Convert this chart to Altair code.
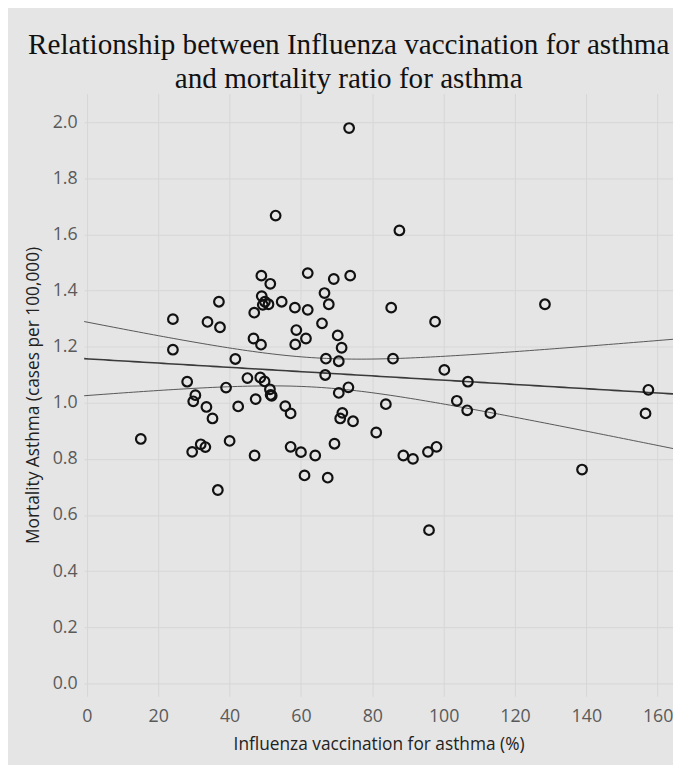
import altair as alt
import numpy as np
import pandas as pd

TITLE = ["Relationship between Influenza vaccination for asthma",
         "and mortality ratio for asthma"]
X_TITLE = "Influenza vaccination for asthma (%)"
Y_TITLE = "Mortality Asthma (cases per 100,000)"

vaccination = [
    15.1, 24.1, 24.1, 28.1, 30.4, 29.8, 29.5, 31.9, 33.2, 33.5,
    33.8, 35.2, 36.7, 37.0, 37.3, 39.0, 40.0, 41.6, 42.4, 45.0,
    46.9, 46.7, 47.0, 47.3, 48.8, 48.9, 49.0, 49.3, 49.9, 50.9,
    48.6, 49.8, 51.4, 51.3, 51.5, 51.8, 52.9, 54.6, 55.6, 57.1,
    57.1, 58.3, 58.7, 58.4, 60.0, 61.0, 61.4, 61.9, 61.9, 64.0,
    65.9, 66.6, 67.8, 67.0, 66.8, 67.5, 69.2, 69.4, 70.3, 70.6,
    71.4, 70.6, 71.6, 71.0, 73.3, 73.5, 73.8, 74.6, 81.1, 83.8,
    85.3, 85.8, 87.6, 88.7, 91.4, 95.6, 95.9, 97.6, 98.0, 100.2,
    103.7, 106.8, 106.6, 113.1, 128.4, 138.8, 156.6, 157.4,
]
mortality = [
    0.871, 1.298, 1.189, 1.075, 1.027, 1.005, 0.825, 0.852, 0.842, 0.985,
    1.288, 0.944, 0.689, 1.360, 1.269, 1.054, 0.864, 1.156, 0.987, 1.088,
    1.321, 1.229, 0.812, 1.013, 1.207, 1.453, 1.380, 1.349, 1.360, 1.351,
    1.090, 1.076, 1.424, 1.048, 1.028, 1.025, 1.667, 1.360, 0.988, 0.962,
    0.843, 1.339, 1.259, 1.208, 0.824, 0.741, 1.229, 1.462, 1.331, 0.812,
    1.283, 1.391, 1.351, 1.157, 1.099, 0.733, 1.441, 0.854, 1.240, 1.148,
    1.196, 1.035, 0.964, 0.944, 1.055, 1.979, 1.453, 0.934, 0.894, 0.995,
    1.339, 1.157, 1.614, 0.812, 0.800, 0.825, 0.546, 1.289, 0.843, 1.117,
    1.007, 1.075, 0.973, 0.963, 1.351, 0.762, 0.962, 1.046,
]

x_ticks = [0, 20, 40, 60, 80, 100, 120, 140, 160]
y_ticks = [0.0, 0.2, 0.4, 0.6, 0.8, 1.0, 1.2, 1.4, 1.6, 1.8, 2.0]
x_domain = [-0.8, 164.3]
y_domain = [-0.046, 2.102]

points = pd.DataFrame({"x": vaccination, "y": mortality})

# linear fit and 95% confidence band derived from the data
xa = np.array(vaccination)
ya = np.array(mortality)
n = len(xa)
slope, intercept = np.polyfit(xa, ya, 1)
resid = ya - (intercept + slope * xa)
s = np.sqrt(np.sum(resid ** 2) / (n - 2))
sxx = np.sum((xa - xa.mean()) ** 2)
tval = 1.987
xs = np.linspace(x_domain[0], x_domain[1], 120)
fit = intercept + slope * xs
se = s * np.sqrt(1.0 / n + (xs - xa.mean()) ** 2 / sxx)
band = pd.DataFrame({"x": xs, "fit": fit, "lo": fit - tval * se, "hi": fit + tval * se})

xscale = alt.Scale(domain=x_domain, nice=False, zero=False)
yscale = alt.Scale(domain=y_domain, nice=False, zero=False)

xenc = alt.X("x:Q", scale=xscale, axis=alt.Axis(values=x_ticks, title=X_TITLE, format="d"))
yenc = alt.Y("y:Q", scale=yscale, axis=alt.Axis(values=y_ticks, title=Y_TITLE, format=".1f"))

pts = alt.Chart(points).mark_point(
    shape="circle", filled=False, color="#111111", strokeWidth=2.2, size=95, opacity=1
).encode(x=xenc, y=yenc)

base = alt.Chart(band)
xb = alt.X("x:Q", scale=xscale)
line_fit = base.mark_line(color="#3a3a3a", strokeWidth=1.6, clip=True).encode(
    x=xb, y=alt.Y("fit:Q", scale=yscale))
line_lo = base.mark_line(color="#555555", strokeWidth=1, clip=True).encode(
    x=xb, y=alt.Y("lo:Q", scale=yscale))
line_hi = base.mark_line(color="#555555", strokeWidth=1, clip=True).encode(
    x=xb, y=alt.Y("hi:Q", scale=yscale))

chart = alt.layer(line_lo, line_hi, line_fit, pts).properties(
    width=596,
    height=610,
    background="#e5e5e5",
    padding={"left": 77, "right": 0, "top": 82, "bottom": 65},
    autosize=alt.AutoSizeParams(type="none"),
    title=alt.TitleParams(
        text=TITLE, font="Liberation Serif", fontSize=29.5, fontWeight="normal",
        color="#111111", anchor="middle", frame="bounds", offset=-1, lineHeight=35,
    ),
).configure_view(strokeWidth=0).configure_axis(
    domain=False, ticks=False, grid=True, gridColor="#d6d6d6", gridWidth=1,
    labelFont="Open Sans", labelFontSize=18, labelColor="#5a5a5a",
    titleFont="Open Sans", titleFontSize=17.5, titleFontWeight="normal", titleColor="#222222",
).configure_axisX(labelPadding=12, titlePadding=10).configure_axisY(labelPadding=7, titlePadding=10)

chart.save("out.html", embed_options={"renderer": "svg", "actions": False})
